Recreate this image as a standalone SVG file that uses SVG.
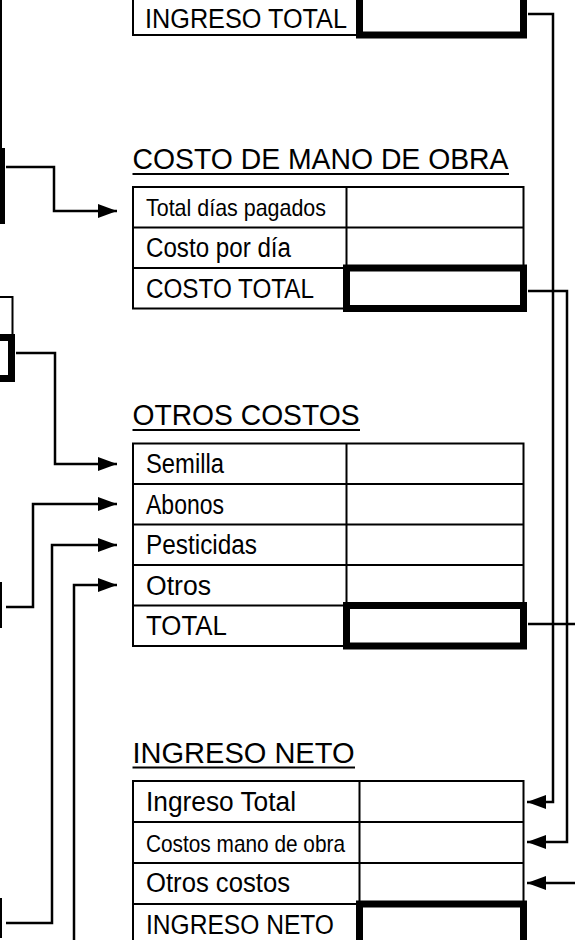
<svg xmlns="http://www.w3.org/2000/svg" width="575" height="940" viewBox="0 0 575 940">
<style>
 .t{font-family:"Liberation Sans",Arial,sans-serif;font-size:27px;fill:#000}
 .s{font-size:24px}
 .h{font-family:"Liberation Sans",Arial,sans-serif;font-size:29px;fill:#000}
 .thin{fill:none;stroke:#000;stroke-width:2}
 .thick{fill:none;stroke:#000;stroke-width:7}
 .ul{stroke:#000;stroke-width:2}
 .c{fill:none;stroke:#000;stroke-width:2.5}
</style>
<defs>
 <marker id="ah" markerUnits="userSpaceOnUse" markerWidth="19" markerHeight="14" refX="19" refY="7" orient="auto"><path d="M0,0 L19,7 L0,14 Z" fill="#000"/></marker>
</defs>
<rect width="575" height="940" fill="#fff"/>

<g id="left-fragment-1">
 <path class="thin" d="M1,-5 V151 M-10,30 H2 M-10,70 H2 M-10,110 H2"/>
 <rect class="thick" x="-100" y="151.5" width="101.5" height="69"/>
</g>
<g id="left-fragment-2">
 <path class="thin" d="M-10,297 H12.5 V337.5"/>
 <rect class="thick" x="-100" y="337.5" width="111.5" height="41"/>
</g>
<g id="left-fragment-3">
 <path class="thin" d="M1,582 V628"/>
</g>
<g id="left-fragment-4">
 <path class="thin" d="M1,898 V938"/>
</g>

<g id="ingreso-total">
 <rect class="thin" x="133" y="-10" width="390.5" height="45"/>
 <rect class="thick" x="359.5" y="-10" width="164" height="45"/>
 <text class="t" x="145" y="27.5" textLength="202" lengthAdjust="spacingAndGlyphs">INGRESO TOTAL</text>
</g>

<g id="costo-mano-obra">
 <text class="h" x="132.5" y="169" textLength="376" lengthAdjust="spacingAndGlyphs">COSTO DE MANO DE OBRA</text>
 <line class="ul" x1="132.5" y1="174" x2="509" y2="174"/>
 <rect class="thin" x="133" y="187" width="390.5" height="121.5"/>
 <path class="thin" d="M133,227.5 H523.5 M133,268 H523.5 M346.5,187 V308.5"/>
 <rect class="thick" x="346.5" y="268" width="177" height="40.5"/>
 <text class="t s" x="146" y="216" textLength="180" lengthAdjust="spacingAndGlyphs">Total días pagados</text>
 <text class="t" x="146" y="257" textLength="145" lengthAdjust="spacingAndGlyphs">Costo por día</text>
 <text class="t" x="146" y="297.5" textLength="168" lengthAdjust="spacingAndGlyphs">COSTO TOTAL</text>
</g>

<g id="otros-costos">
 <text class="h" x="132.5" y="425" textLength="227" lengthAdjust="spacingAndGlyphs">OTROS COSTOS</text>
 <line class="ul" x1="132.5" y1="430" x2="360" y2="430"/>
 <rect class="thin" x="133" y="443.5" width="390.5" height="202.5"/>
 <path class="thin" d="M133,484 H523.5 M133,524.5 H523.5 M133,565 H523.5 M133,605.5 H523.5 M346.5,443.5 V646"/>
 <rect class="thick" x="346.5" y="605.5" width="177" height="40.5"/>
 <text class="t" x="146" y="473" textLength="78" lengthAdjust="spacingAndGlyphs">Semilla</text>
 <text class="t" x="146" y="513.5" textLength="78" lengthAdjust="spacingAndGlyphs">Abonos</text>
 <text class="t" x="146" y="554" textLength="111" lengthAdjust="spacingAndGlyphs">Pesticidas</text>
 <text class="t" x="146" y="594.5" textLength="65" lengthAdjust="spacingAndGlyphs">Otros</text>
 <text class="t" x="146" y="635" textLength="81" lengthAdjust="spacingAndGlyphs">TOTAL</text>
</g>

<g id="ingreso-neto">
 <text class="h" x="132.5" y="762.5" textLength="222" lengthAdjust="spacingAndGlyphs">INGRESO NETO</text>
 <line class="ul" x1="132.5" y1="767.5" x2="355" y2="767.5"/>
 <rect class="thin" x="133" y="781" width="390.5" height="170"/>
 <path class="thin" d="M133,822 H523.5 M133,863 H523.5 M133,904 H523.5 M359.5,781 V950"/>
 <rect class="thick" x="359.5" y="904" width="164" height="45"/>
 <text class="t" x="146" y="811" textLength="150" lengthAdjust="spacingAndGlyphs">Ingreso Total</text>
 <text class="t s" x="146" y="851.5" textLength="199" lengthAdjust="spacingAndGlyphs">Costos mano de obra</text>
 <text class="t" x="146" y="892" textLength="144" lengthAdjust="spacingAndGlyphs">Otros costos</text>
 <text class="t" x="146" y="933.5" textLength="188" lengthAdjust="spacingAndGlyphs">INGRESO NETO</text>
</g>

<g id="connectors">
 <path class="c" d="M6,167 H54 V211 H117" marker-end="url(#ah)"/>
 <path class="c" d="M16,353 H55 V464 H117" marker-end="url(#ah)"/>
 <path class="c" d="M6,607 H33 V504 H117" marker-end="url(#ah)"/>
 <path class="c" d="M6,923 H52 V545 H117" marker-end="url(#ah)"/>
 <path class="c" d="M74,950 V585 H117" marker-end="url(#ah)"/>
 <path class="c" d="M528,14 H553 V802 H527" marker-end="url(#ah)"/>
 <path class="c" d="M528,291 H567 V842 H527" marker-end="url(#ah)"/>
 <path class="c" d="M528,624 H590 V883 H527" marker-end="url(#ah)"/>
</g>
</svg>
